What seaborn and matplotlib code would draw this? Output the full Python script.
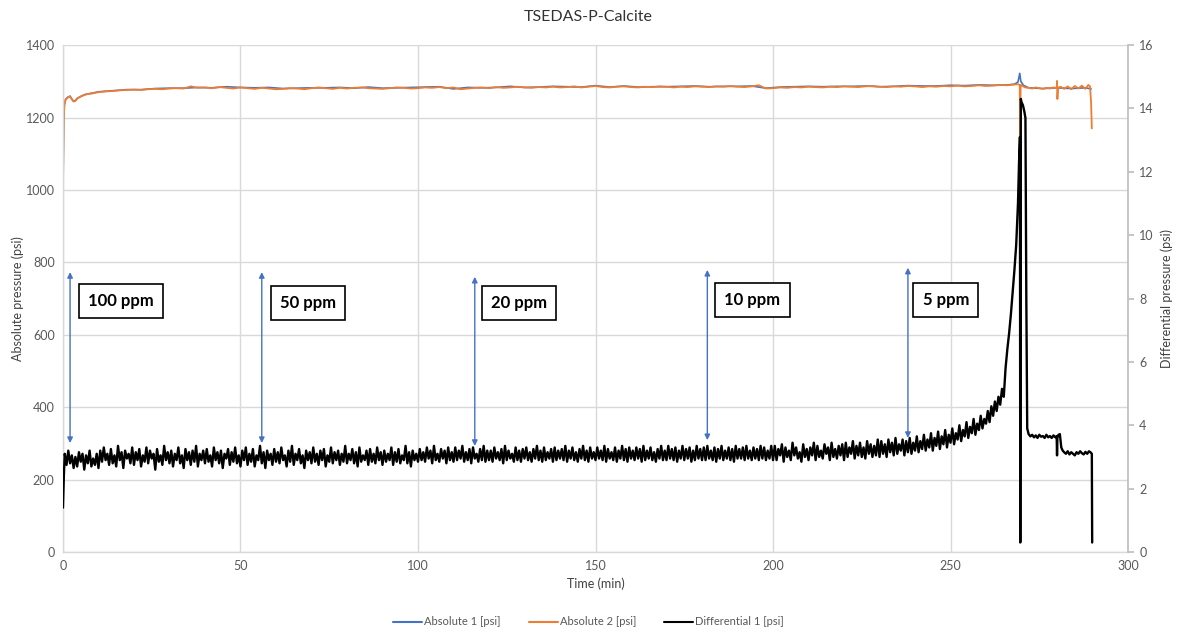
import numpy as np
import pandas as pd
import matplotlib
matplotlib.use("Agg")
import matplotlib.pyplot as plt
import seaborn as sns

# ---------------- data ----------------
# Differential 1 [psi]
diff_head_t = [0.0, 0.25]
diff_head_v = [1.4, 2.4]
diff_main_t = np.arange(0.5, 265.01, 0.5)
diff_0_100 = [
    3.1, 2.75, 3.2, 2.8, 3.05, 2.65, 3.0, 2.7, 3.15, 2.85, 3.1, 2.6, 3.05, 2.8, 3.2, 2.7, 2.95, 2.75, 3.1, 2.65,
    3.2, 2.85, 3.3, 2.9, 3.1, 2.75, 3.25, 2.8, 3.05, 2.7, 3.35, 2.9, 3.15, 2.65, 3.2, 2.95, 3.1, 2.8, 3.3, 2.75,
    3.15, 2.9, 3.25, 2.7, 3.05, 2.85, 3.3, 2.8, 3.2, 2.95, 3.1, 2.6, 3.25, 2.85, 3.05, 2.75, 3.35, 2.9, 3.15, 2.8,
    3.2, 2.7, 3.1, 2.9, 3.3, 2.8, 3.05, 2.65, 3.25, 2.9, 3.15, 2.75, 3.2, 2.85, 3.35, 2.7, 3.1, 2.9, 3.2, 2.8,
    3.25, 2.85, 3.05, 2.7, 3.3, 2.9, 3.15, 2.8, 3.2, 2.65, 3.1, 2.95, 3.25, 2.75, 3.15, 2.85, 3.3, 2.8, 3.05, 2.7,
    3.2, 2.9, 3.3, 2.75, 3.1, 2.85, 3.25, 2.7, 3.05, 2.9, 3.35, 2.8, 3.15, 2.65, 3.2, 2.9, 3.1, 2.75, 3.25, 2.85,
    3.15, 2.8, 3.3, 2.9, 3.05, 2.7, 3.2, 2.85, 3.35, 2.75, 3.1, 2.9, 3.25, 2.8, 3.05, 2.65, 3.2, 2.9, 3.15, 2.8,
    3.3, 2.85, 3.1, 2.75, 3.2, 2.9, 3.25, 2.7, 3.05, 2.85, 3.3, 2.8, 3.15, 2.9, 3.2, 2.75, 3.1, 2.85, 3.35, 2.8,
    3.1, 2.9, 3.25, 2.8, 3.15, 2.7, 3.3, 2.85, 3.05, 2.9, 3.2, 2.75, 3.25, 2.85, 3.1, 2.8, 3.3, 2.9, 3.15, 2.75,
    3.2, 2.85, 3.1, 2.9, 3.3, 2.75, 3.15, 2.85, 3.25, 2.8, 3.05, 2.9, 3.35, 2.8, 3.15, 2.7, 3.2, 2.9, 3.1, 2.85,
]
diff_100_200 = [
    3.25, 2.9, 3.15, 2.85, 3.3, 2.95, 3.2, 2.8, 3.35, 2.9, 3.1, 2.85, 3.25, 2.95, 3.2, 2.8, 3.3, 2.9, 3.15, 2.85,
    3.3, 2.9, 3.2, 2.95, 3.35, 2.85, 3.15, 2.9, 3.25, 2.8, 3.3, 2.95, 3.1, 2.85, 3.25, 2.9, 3.35, 2.85, 3.2, 2.9,
    3.2, 2.85, 3.3, 2.95, 3.15, 2.9, 3.25, 2.8, 3.35, 2.9, 3.2, 2.95, 3.1, 2.85, 3.3, 2.9, 3.2, 2.85, 3.25, 2.95,
    3.3, 2.9, 3.15, 2.85, 3.25, 2.95, 3.35, 2.9, 3.2, 2.85, 3.3, 2.9, 3.15, 2.95, 3.25, 2.85, 3.3, 2.9, 3.2, 2.95,
    3.25, 2.9, 3.35, 2.85, 3.2, 2.95, 3.3, 2.9, 3.15, 2.85, 3.25, 2.95, 3.35, 2.9, 3.2, 2.85, 3.3, 2.95, 3.15, 2.9,
    3.3, 2.95, 3.2, 2.9, 3.35, 2.85, 3.25, 2.95, 3.15, 2.9, 3.3, 2.85, 3.2, 2.95, 3.35, 2.9, 3.25, 2.85, 3.3, 2.95,
    3.2, 2.9, 3.3, 2.95, 3.25, 2.85, 3.35, 2.9, 3.2, 2.95, 3.3, 2.9, 3.15, 2.85, 3.25, 2.95, 3.35, 2.9, 3.2, 2.9,
    3.35, 2.95, 3.25, 2.9, 3.3, 2.85, 3.2, 2.95, 3.35, 2.9, 3.25, 2.95, 3.3, 2.85, 3.2, 2.9, 3.35, 2.95, 3.25, 2.9,
    3.3, 2.9, 3.35, 2.95, 3.2, 2.9, 3.3, 2.85, 3.25, 2.95, 3.35, 2.9, 3.2, 2.95, 3.3, 2.9, 3.25, 2.85, 3.35, 2.95,
    3.25, 2.95, 3.3, 2.9, 3.35, 2.95, 3.2, 2.9, 3.3, 2.95, 3.25, 2.9, 3.35, 2.95, 3.3, 2.9, 3.2, 2.95, 3.35, 2.9,
]
diff_200_265 = [
    3.35, 2.9, 3.25, 3.05, 3.4, 2.85, 3.3, 3.0, 3.2, 2.9, 3.45, 3.05, 3.3, 2.95, 3.15, 2.85, 3.4, 3.0, 3.25, 2.9,
    3.3, 3.05, 3.45, 2.9, 3.35, 3.0, 3.2, 2.95, 3.4, 3.1, 3.3, 2.9, 3.45, 3.0, 3.25, 2.95, 3.35, 3.05, 3.4, 2.9,
    3.45, 3.0, 3.3, 3.1, 3.5, 2.95, 3.35, 3.05, 3.45, 3.0, 3.3, 2.95, 3.5, 3.1, 3.4, 3.0, 3.35, 3.05, 3.55, 3.0,
    3.5, 3.1, 3.4, 3.0, 3.55, 3.15, 3.45, 3.05, 3.6, 3.1, 3.4, 3.2, 3.55, 3.05, 3.5, 3.15, 3.6, 3.1, 3.45, 3.2,
    3.65, 3.15, 3.5, 3.25, 3.7, 3.2, 3.55, 3.3, 3.75, 3.2, 3.6, 3.35, 3.8, 3.25, 3.65, 3.4, 3.85, 3.3, 3.7, 3.45,
    3.9, 3.4, 3.75, 3.55, 4.0, 3.5, 3.85, 3.65, 4.1, 3.6, 3.95, 3.75, 4.2, 3.7, 4.05, 3.85, 4.3, 3.9, 4.2, 4.05,
    4.45, 4.1, 4.6, 4.3, 4.75, 4.45, 4.9, 4.65, 5.15, 4.9,
]
diff_spike_t = [265.5, 266, 266.5, 267, 267.5, 268, 268.5, 269, 269.3, 269.55, 269.65, 269.8,
                270.0, 270.4, 270.8, 271.1, 271.35, 271.6, 272.0]
diff_spike_v = [5.8, 6.4, 6.9, 7.5, 8.2, 8.9, 9.7, 11.0, 12.3, 13.1, 0.3, 14.3,
                14.2, 14.1, 13.9, 13.7, 8.0, 3.9, 3.72]
diff_tail_t = [272.5, 273, 273.5, 274, 274.5, 275, 275.5, 276, 276.5, 277, 277.5, 278, 278.5, 279,
               279.5, 279.9, 280.0, 280.1, 280.4, 280.8, 281.2, 281.6, 282, 282.5, 283, 283.5, 284,
               284.5, 285, 285.5, 286, 286.5, 287, 287.5, 288, 288.5, 289, 289.5, 289.8, 289.9]
diff_tail_v = [3.65, 3.7, 3.62, 3.68, 3.6, 3.7, 3.64, 3.66, 3.6, 3.7, 3.62, 3.66, 3.6, 3.68,
               3.62, 3.66, 3.05, 3.6, 3.7, 3.72, 3.3, 3.2, 3.15, 3.1, 3.18, 3.08, 3.15,
               3.1, 3.05, 3.15, 3.1, 3.18, 3.12, 3.08, 3.16, 3.1, 3.18, 3.14, 3.1, 0.3]

# Absolute 2 [psi] (orange)
abs2_head_t = [0, 0.2, 0.4, 0.7, 1, 1.5, 2, 2.5, 3, 3.5, 4, 5, 6, 7, 8, 9]
abs2_head_v = [995, 1190, 1235, 1248, 1252, 1256, 1258, 1250, 1244, 1246, 1252, 1258, 1262, 1265, 1266, 1268]
abs2_main_t = np.arange(10, 268.1, 2)
abs2_main_v = [
    1270, 1272, 1273, 1275, 1276, 1277, 1276, 1278, 1279, 1278, 1280,
    1281, 1280, 1286, 1282, 1283, 1281, 1284, 1282, 1280, 1283, 1281, 1279, 1282, 1280, 1278,
    1279, 1281, 1280, 1278, 1281, 1283, 1281, 1279, 1282, 1280, 1282, 1283, 1281, 1280, 1279, 1281, 1283, 1282, 1280, 1281,
    1283, 1282, 1284, 1281, 1283, 1278, 1280, 1282, 1283, 1281, 1284, 1282, 1283, 1285, 1283, 1282, 1284, 1283, 1285, 1283,
    1284, 1286, 1283, 1285, 1287, 1284, 1283, 1285, 1286, 1284, 1283, 1285, 1284, 1286, 1285, 1283, 1285, 1284, 1286, 1285,
    1284, 1286, 1285, 1287, 1285, 1284, 1286, 1289, 1280, 1281, 1283, 1282, 1284, 1283, 1285, 1284, 1283, 1285, 1284, 1286,
    1285, 1284, 1286, 1287, 1285, 1284, 1286, 1285, 1287, 1286, 1284, 1286, 1285, 1287, 1286, 1288, 1286, 1287, 1289, 1287,
    1288, 1290, 1289, 1291,
]
abs2_tail_t = [269, 269.5, 269.6, 269.75, 270.5, 271, 272, 273, 274, 275, 276, 277, 278, 279, 279.9,
               280.0, 280.1, 280.3, 281, 282, 283, 284, 285, 286, 287, 288, 288.8, 289.3, 289.6, 289.8]
abs2_tail_v = [1292, 1290, 1146, 1290, 1286, 1283, 1282, 1280, 1283, 1281, 1279, 1282, 1280, 1283, 1281,
               1301, 1251, 1282, 1285, 1279, 1286, 1278, 1287, 1280, 1288, 1279, 1290, 1286, 1240, 1170]

# Absolute 1 [psi] (blue)
abs1_head_t = [0, 0.2, 0.4, 0.7, 1, 1.5, 2, 2.5, 3, 3.5, 4, 6, 8]
abs1_head_v = [995, 1192, 1236, 1249, 1253, 1257, 1259, 1251, 1245, 1247, 1253, 1263, 1267]
abs1_main_t = np.arange(10, 266.1, 4)
abs1_main_v = [
    1271, 1274, 1277, 1277, 1280, 1281, 1281, 1283, 1282, 1285,
    1283, 1282, 1283, 1280, 1281, 1282, 1282, 1283, 1281, 1284,
    1281, 1282, 1283, 1284, 1285, 1279, 1283, 1282, 1283, 1286,
    1283, 1284, 1286, 1285, 1284, 1288, 1284, 1287, 1284, 1285,
    1285, 1286, 1287, 1285, 1286, 1286, 1287, 1281, 1284, 1285,
    1286, 1285, 1286, 1286, 1287, 1285, 1286, 1288, 1287, 1287,
    1289, 1288, 1290, 1289, 1290,
]
abs1_tail_t = [268, 269, 269.5, 269.8, 270.5, 272, 276, 280, 284, 288, 289.6]
abs1_tail_v = [1292, 1298, 1322, 1300, 1289, 1282, 1280, 1282, 1280, 1282, 1279]

# annotations
dose_labels = ["100 ppm", "50 ppm", "20 ppm", "10 ppm", "5 ppm"]
arrow_x = [2, 56, 116, 181.5, 238]
arrow_top = [773, 773, 760, 779, 785]
arrow_bottom = [301, 301, 293, 309, 315]
label_x = [16.3, 69.0, 128.5, 194.2, 248.7]
label_y = [693, 688, 688, 696, 696]

# ---------------- build frames ----------------
diff_df = pd.DataFrame({
    "t": np.concatenate([diff_head_t, diff_main_t, diff_spike_t, diff_tail_t]),
    "v": np.concatenate([diff_head_v, diff_0_100 + diff_100_200 + diff_200_265, diff_spike_v, diff_tail_v]),
})
abs2_df = pd.DataFrame({
    "t": np.concatenate([abs2_head_t, abs2_main_t, abs2_tail_t]),
    "v": np.concatenate([abs2_head_v, abs2_main_v, abs2_tail_v]),
})
abs1_df = pd.DataFrame({
    "t": np.concatenate([abs1_head_t, abs1_main_t, abs1_tail_t]),
    "v": np.concatenate([abs1_head_v, abs1_main_v, abs1_tail_v]),
})

# ---------------- plot ----------------
sns.set_theme(style="white")
plt.rcParams["font.family"] = ["Lato", "DejaVu Sans"]

BLUE = "#4472C4"
ORANGE = "#ED7D31"
GRID = "#D9D9D9"
TXT = "#595959"

fig = plt.figure(figsize=(11.77, 6.35), dpi=100)
ax = fig.add_axes([0.0535, 0.1307, 0.9049, 0.7983])
ax2 = ax.twinx()

sns.lineplot(data=abs1_df, x="t", y="v", ax=ax, color=BLUE, lw=1.2, estimator=None, sort=False)
sns.lineplot(data=abs2_df, x="t", y="v", ax=ax, color=ORANGE, lw=1.3, estimator=None, sort=False)
sns.lineplot(data=diff_df, x="t", y="v", ax=ax2, color="black", lw=1.7, estimator=None, sort=False)

ax.set_xlim(0, 300)
ax.set_ylim(0, 1400)
ax2.set_ylim(0, 16)
ax.set_xticks(np.arange(0, 301, 50))
ax.set_yticks(np.arange(0, 1401, 200))
ax2.set_yticks(np.arange(0, 17, 2))

ax.grid(True, color=GRID, lw=1)
ax.set_axisbelow(True)
ax2.grid(False)

for s in ["top", "right"]:
    ax.spines[s].set_visible(False)
for s in ["left", "bottom"]:
    ax.spines[s].set_color(GRID)
    ax.spines[s].set_linewidth(1)
for s in ["top", "left", "bottom"]:
    ax2.spines[s].set_visible(False)
ax2.spines["right"].set_color("#BFBFBF")

ax.tick_params(axis="both", length=0, labelsize=9, labelcolor=TXT, pad=6)
ax2.tick_params(axis="y", length=4, color="#BFBFBF", labelsize=9, labelcolor=TXT, pad=4)

ax.set_xlabel("Time (min)", fontsize=9, color="#404040", labelpad=4)
ax.set_ylabel("Absolute pressure (psi)", fontsize=9, color="#404040", labelpad=1)
ax2.set_ylabel("Differential pressure (psi)", fontsize=9, color="#404040", labelpad=5)

fig.text(0.5, 0.973, "TSEDAS-P-Calcite", ha="center", va="center", fontsize=11.5, color="#333333")

for xa, yt, yb in zip(arrow_x, arrow_top, arrow_bottom):
    ax.annotate("", xy=(xa, yb), xytext=(xa, yt),
                arrowprops=dict(arrowstyle="<|-|>", color=BLUE, lw=1, mutation_scale=8,
                                shrinkA=0, shrinkB=0), zorder=5)
for lab, lx, ly in zip(dose_labels, label_x, label_y):
    ax.text(lx, ly, lab, ha="center", va="center", fontsize=12, fontweight="bold", color="black",
            bbox=dict(boxstyle="square,pad=0.55", facecolor="white", edgecolor="black", lw=1.2), zorder=6)

handles = [plt.Line2D([], [], color=BLUE, lw=1.5),
           plt.Line2D([], [], color=ORANGE, lw=1.5),
           plt.Line2D([], [], color="black", lw=1.5)]
fig.legend(handles, ["Absolute 1 [psi]", "Absolute 2 [psi]", "Differential 1 [psi]"],
           loc="center", bbox_to_anchor=(0.5, 0.0205), ncol=3, frameon=False, fontsize=8,
           handlelength=2.6, handletextpad=0.2, columnspacing=2.5, labelcolor=TXT)

fig.savefig("out.png", dpi=100)
